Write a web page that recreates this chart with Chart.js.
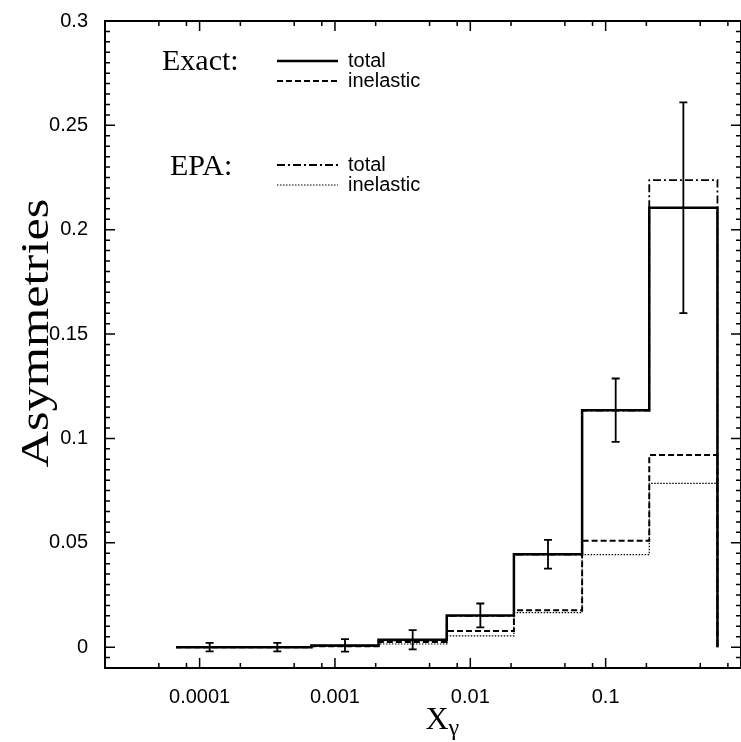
<!DOCTYPE html>
<html>
<head>
<meta charset="utf-8">
<script src="https://cdn.jsdelivr.net/npm/chart.js@4.4.1/dist/chart.umd.min.js"></script>
<style>
  html, body { margin: 0; padding: 0; background: #fff; }
  #wrap { width: 741px; height: 742px; }
</style>
</head>
<body>
<div id="wrap"><canvas id="asym"></canvas></div>
<script>
// half-decade bins in x_gamma
var binEdges = [6.7e-5, 2.1e-4, 6.7e-4, 2.1e-3, 6.7e-3, 0.021, 0.067, 0.21, 0.67];

var exactTotal = [0, 0, 0.0008, 0.0035, 0.0152, 0.0445, 0.1135, 0.2105];
var exactInel  = [0, 0, 0.0004, 0.0025, 0.0077, 0.0177, 0.051, 0.092];
var epaTotal   = [0, 0, 0.0007, 0.0033, 0.015, 0.0443, 0.1133, 0.2238];
var epaInel    = [0, 0, 0.0003, 0.0015, 0.0054, 0.0165, 0.0443, 0.0785];
// statistical errors on the exact total
var errHalf    = [0.002, 0.002, 0.003, 0.0046, 0.0057, 0.0069, 0.0152, 0.0505];

var xTickValues = [1e-4, 1e-3, 1e-2, 1e-1];
var xTickLabels = ["0.0001", "0.001", "0.01", "0.1"];
var xMinorMult = [2, 5, 8];
var yTickValues = [0, 0.05, 0.1, 0.15, 0.2, 0.25, 0.3];
var yTickLabels = ["0", "0.05", "0.1", "0.15", "0.2", "0.25", "0.3"];

var yTitle = "Asymmetries";
var xTitle = "X";
var xTitleSub = "\u03b3";

var styles = {
    exactTotal: {dash: [], width: 2.5},
    exactInel: {dash: [6, 3], width: 2},
    epaTotal: {dash: [8, 3, 2, 3], width: 1.8},
    epaInel: {dash: [1.5, 1.5], width: 1.2}
};

function stepPoints(vals) {
    var pts = [];
    for (var i = 0; i < vals.length; i++) {
        pts.push({x: binEdges[i], y: vals[i]});
    }
    pts.push({x: binEdges[vals.length], y: vals[vals.length - 1]});
    pts.push({x: binEdges[vals.length], y: 0});
    return pts;
}

function histSet(label, vals, st) {
    return {
        label: label,
        data: stepPoints(vals),
        stepped: 'before',
        borderColor: '#000',
        borderWidth: st.width,
        borderDash: st.dash,
        pointRadius: 0,
        fill: false
    };
}

var frameAndMarks = {
    id: 'frameAndMarks',
    afterDatasetsDraw: function (chart) {
        var ctx = chart.ctx;
        var a = chart.chartArea;
        var xs = chart.scales.x, ys = chart.scales.y;
        ctx.save();
        ctx.strokeStyle = '#000';
        ctx.setLineDash([]);

        // error bars
        ctx.lineWidth = 1.8;
        for (var i = 0; i < errHalf.length; i++) {
            var c = Math.sqrt(binEdges[i] * binEdges[i + 1]);
            var px = xs.getPixelForValue(c);
            var y1 = ys.getPixelForValue(exactTotal[i] + errHalf[i]);
            var y2 = ys.getPixelForValue(exactTotal[i] - errHalf[i]);
            ctx.beginPath();
            ctx.moveTo(px, y1); ctx.lineTo(px, y2);
            ctx.moveTo(px - 4, y1); ctx.lineTo(px + 4, y1);
            ctx.moveTo(px - 4, y2); ctx.lineTo(px + 4, y2);
            ctx.stroke();
        }

        // frame
        ctx.lineWidth = 2;
        ctx.strokeRect(a.left, a.top, a.right - a.left, a.bottom - a.top);

        // x ticks (inward, top and bottom)
        ctx.lineWidth = 1.5;
        ctx.beginPath();
        for (var d = -5; d <= 0; d++) {
            var mults = [1].concat(xMinorMult);
            for (var k = 0; k < mults.length; k++) {
                var v = mults[k] * Math.pow(10, d);
                if (v <= xs.min || v >= xs.max) continue;
                var p = xs.getPixelForValue(v);
                var len = mults[k] === 1 ? 10 : 5;
                ctx.moveTo(p, a.bottom); ctx.lineTo(p, a.bottom - len);
                ctx.moveTo(p, a.top); ctx.lineTo(p, a.top + len);
            }
        }
        // y ticks every 0.005, major every 0.05
        for (var j = -1; j <= 60; j++) {
            var yv = j * 0.005;
            var yp = ys.getPixelForValue(yv);
            if (yp < a.top || yp > a.bottom) continue;
            var ylen = (j % 10 === 0) ? 10 : 5;
            ctx.moveTo(a.left, yp); ctx.lineTo(a.left + ylen, yp);
            ctx.moveTo(a.right, yp); ctx.lineTo(a.right - ylen, yp);
        }
        ctx.stroke();
        ctx.restore();
    },
    afterDraw: function (chart) {
        var ctx = chart.ctx;
        ctx.save();
        ctx.fillStyle = '#000';
        ctx.strokeStyle = '#000';

        // axis titles
        ctx.font = '42px "Liberation Serif"';
        ctx.textAlign = 'center';
        ctx.textBaseline = 'middle';
        ctx.save();
        ctx.translate(38, 333);
        ctx.rotate(-Math.PI / 2);
        ctx.scale(1.2, 0.95);
        ctx.fillText(yTitle, 0, 0);
        ctx.restore();

        ctx.textAlign = 'left';
        ctx.textBaseline = 'alphabetic';
        ctx.font = '32px "Liberation Serif"';
        var xw = ctx.measureText(xTitle).width;
        var x0 = 442 - xw / 2 - 5;
        ctx.fillText(xTitle, x0, 729);
        ctx.font = '24px "Liberation Serif"';
        ctx.fillText(xTitleSub, x0 + xw, 735);

        // legend
        ctx.font = '30px "Liberation Serif"';
        ctx.textBaseline = 'middle';
        ctx.fillText('Exact:', 162, 62);
        ctx.fillText('EPA:', 170, 167);

        var rows = [
            {y: 61, st: styles.exactTotal, t: 'total'},
            {y: 81, st: styles.exactInel, t: 'inelastic'},
            {y: 165, st: styles.epaTotal, t: 'total'},
            {y: 185, st: styles.epaInel, t: 'inelastic'}
        ];
        ctx.font = '20px "Liberation Sans"';
        rows.forEach(function (r) {
            ctx.lineWidth = r.st.width;
            ctx.setLineDash(r.st.dash);
            ctx.beginPath();
            ctx.moveTo(277, r.y); ctx.lineTo(338, r.y);
            ctx.stroke();
            ctx.fillText(r.t, 348, r.y);
        });
        ctx.restore();
    }
};

var ctx = document.getElementById("asym").getContext("2d");
new Chart(ctx, {
    type: 'line',
    data: {
        datasets: [
            histSet('EPA inelastic', epaInel, styles.epaInel),
            histSet('EPA total', epaTotal, styles.epaTotal),
            histSet('Exact inelastic', exactInel, styles.exactInel),
            histSet('Exact total', exactTotal, styles.exactTotal)
        ]
    },
    options: {
        responsive: true,
        maintainAspectRatio: false,
        animation: false,
        layout: {padding: {top: 17, right: 0, bottom: 0, left: 0}},
        plugins: {legend: {display: false}, tooltip: {enabled: false}},
        scales: {
            x: {
                type: 'logarithmic',
                min: 2e-5,
                max: 1,
                grid: {display: false},
                border: {display: false},
                afterBuildTicks: function (s) {
                    s.ticks = xTickValues.map(function (v) { return {value: v}; });
                },
                afterFit: function (s) { s.height = 74; },
                ticks: {
                    autoSkip: false,
                    maxRotation: 0,
                    padding: 9,
                    color: '#000',
                    font: {family: 'Liberation Sans', size: 20},
                    callback: function (v) {
                        var i = xTickValues.indexOf(v);
                        return i >= 0 ? xTickLabels[i] : '';
                    }
                }
            },
            y: {
                min: -0.01,
                max: 0.3,
                grid: {display: false},
                border: {display: false},
                afterBuildTicks: function (s) {
                    s.ticks = yTickValues.map(function (v) { return {value: v}; });
                },
                afterFit: function (s) { s.width = 105; },
                ticks: {
                    padding: 9,
                    color: '#000',
                    font: {family: 'Liberation Sans', size: 20},
                    callback: function (v) {
                        var i = yTickValues.indexOf(v);
                        return i >= 0 ? yTickLabels[i] : '';
                    }
                }
            }
        }
    },
    plugins: [frameAndMarks]
});
</script>
</body>
</html>
